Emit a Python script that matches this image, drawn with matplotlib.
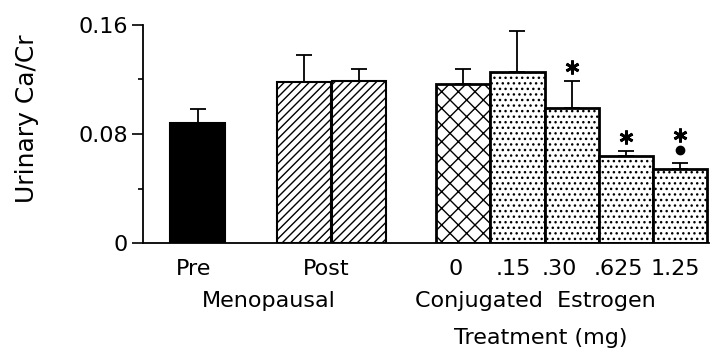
import numpy as np
import matplotlib
matplotlib.use("Agg")
import matplotlib.pyplot as plt

# urinary Ca/Cr by group (mean and upper SE)
groups = ["Pre", "Post", "Post", "0", ".15", ".30", ".625", "1.25"]
ca_cr = [0.088, 0.118, 0.119, 0.117, 0.1255, 0.099, 0.064, 0.054]
se = [0.010, 0.020, 0.009, 0.011, 0.030, 0.020, 0.0035, 0.0045]
star_idx = [5, 6, 7]      # * significant vs untreated
dot_idx = [7]             # second marker on highest dose

tick_text = ["Pre", "Post", "0", ".15", ".30", ".625", "1.25"]

plt.rcParams["font.family"] = ["DejaVu Sans"]
plt.rcParams["hatch.linewidth"] = 1.0

fig = plt.figure(figsize=(7.13, 3.5), dpi=100)
ax = fig.add_axes([0.2006, 0.3057, 0.7934, 0.6229])

x_pos = [0, 1.94, 2.94, 4.84, 5.83, 6.82, 7.81, 8.80]
fills = ["black", "white", "white", "white", "white", "white", "white", "white"]
hatches = [None, "////", "////", "xx", "...", "...", "...", "..."]
lws = [1.5, 1.5, 1.5, 2.0, 2.0, 2.0, 2.0, 2.0]

for i in range(len(ca_cr)):
    ax.bar(x_pos[i], ca_cr[i], width=0.99 if i > 0 else 1.0, color=fills[i],
           edgecolor="black", hatch=hatches[i], linewidth=lws[i], zorder=2)

ax.errorbar(x_pos, ca_cr, yerr=[np.zeros(len(se)), se], fmt="none",
            ecolor="black", elinewidth=1.3, capsize=5.5, capthick=1.3, zorder=1)

tops = np.array(ca_cr) + np.array(se)
for i in star_idx:
    gap = 0.0205 if i in dot_idx else 0.010
    ax.plot(x_pos[i], tops[i] + gap, marker=(6, 2, 0), ms=10, mew=2.0,
            color="black", zorder=3)
for i in dot_idx:
    ax.plot(x_pos[i], tops[i] + 0.010, marker="o", ms=6, color="black", zorder=3)

ax.set_xlim(-1.0, 9.32)
ax.set_ylim(0, 0.16)
ax.spines["top"].set_visible(False)
ax.spines["right"].set_visible(False)
ax.spines["left"].set_linewidth(1.3)
ax.spines["bottom"].set_linewidth(1.3)

ax.set_xticks([])
ax.set_yticks([0, 0.08, 0.16])
ax.set_yticklabels(["0", "0.08", "0.16"])
ax.set_yticks([0.04, 0.12], minor=True)
ax.tick_params(axis="y", which="major", direction="out", length=8, width=1.2,
               labelsize=16, pad=3)
ax.tick_params(axis="y", which="minor", direction="out", length=3.6, width=1.2)

fig.text(27 / 713, 1 - 119 / 350, "Urinary Ca/Cr", rotation=90,
         ha="center", va="center", fontsize=18)

# group labels under the axis
trans = ax.get_xaxis_transform()
label_x = [-0.07, 2.35, 4.71, 5.75, 6.6, 7.67, 8.71]
for lx, t in zip(label_x, tick_text):
    ax.text(lx, -0.145, t, transform=trans, ha="center", va="baseline",
            fontsize=16, clip_on=False)

ax.text(1.29, -0.294, "Menopausal", transform=trans, ha="center",
        va="baseline", fontsize=16, clip_on=False)
ax.text(6.16, -0.294, "Conjugated  Estrogen", transform=trans, ha="center",
        va="baseline", fontsize=16, clip_on=False)
ax.text(6.25, -0.462, "Treatment (mg)", transform=trans, ha="center",
        va="baseline", fontsize=16, clip_on=False)

fig.savefig("out.png", dpi=100)
